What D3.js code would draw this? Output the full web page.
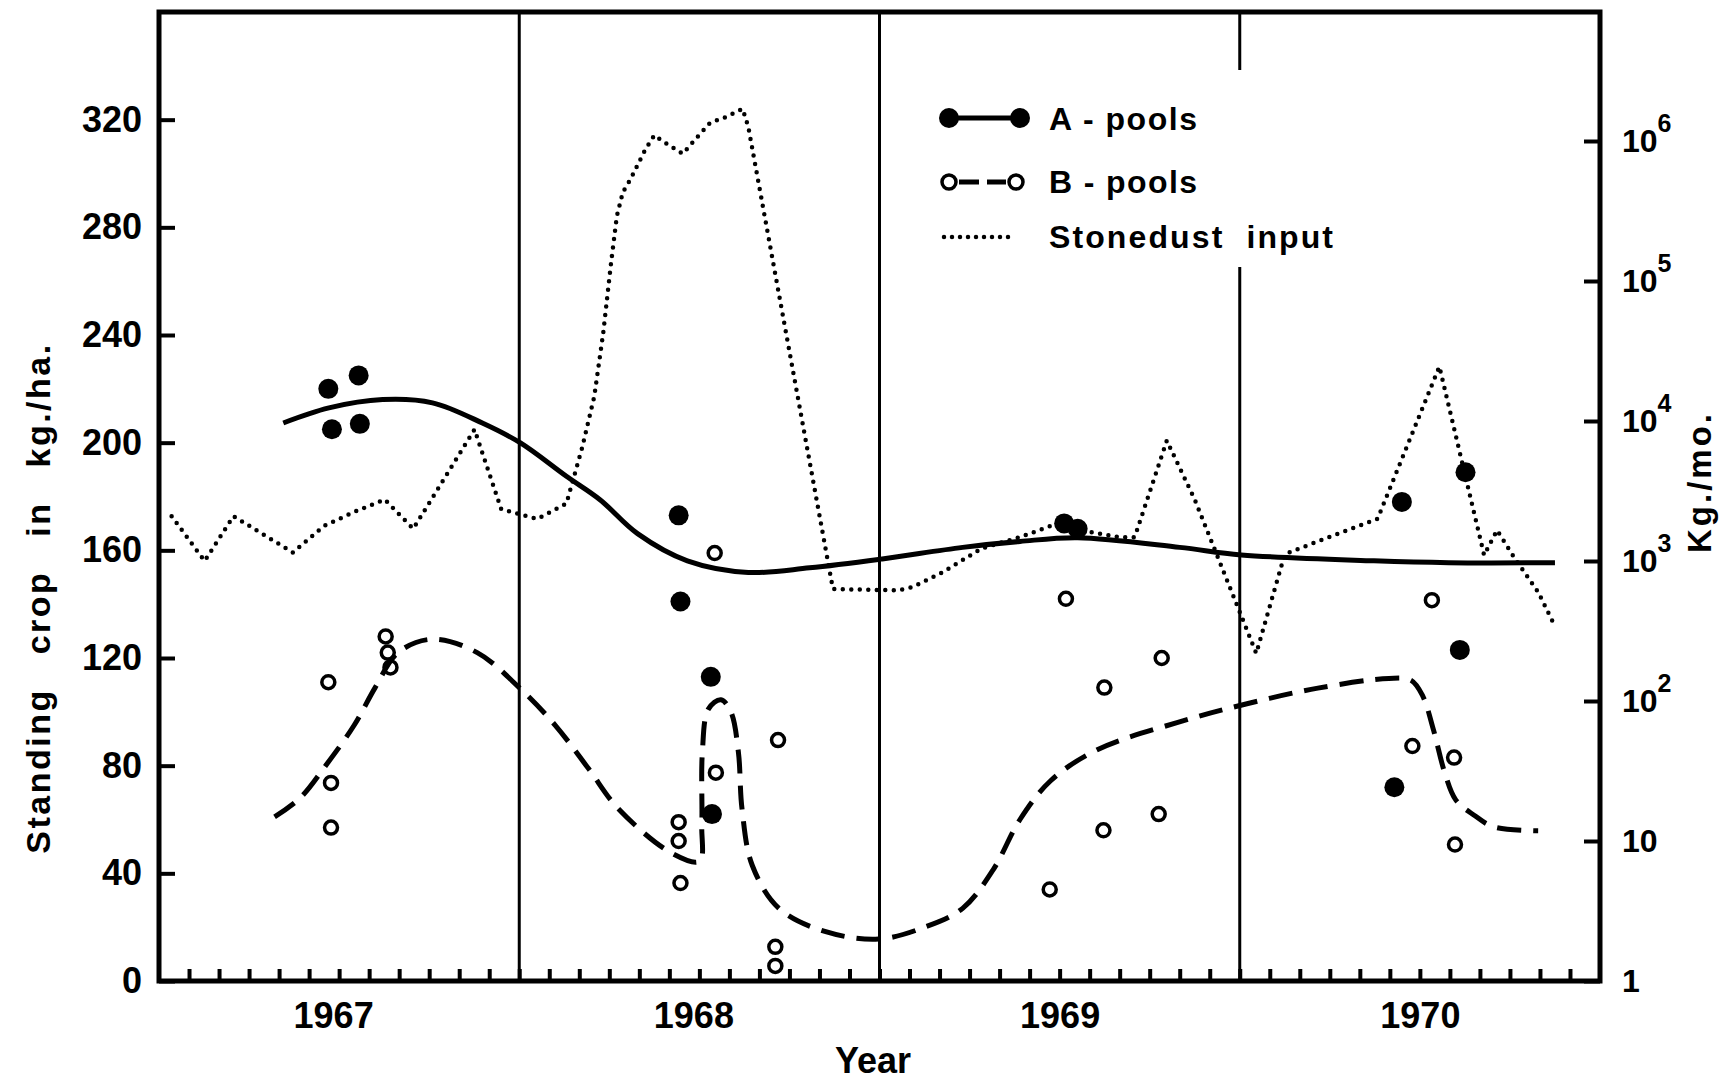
<!DOCTYPE html>
<meta charset="utf-8">
<style>
body { margin: 0; background: #fff; }
svg { display: block; font-family: "Liberation Sans", Arial, sans-serif; font-weight: bold; }
.frame { fill: none; stroke: #000; stroke-width: 5px; }
.divider { stroke: #000; stroke-width: 3px; }
.a-line { fill: none; stroke: #000; stroke-width: 5px; }
.b-line { fill: none; stroke: #000; stroke-width: 5px; stroke-dasharray: 24 12; }
.dust-line { fill: none; stroke: #000; stroke-width: 4.5px; stroke-linecap: round; stroke-dasharray: 0 8.5; }
.a-dot { fill: #000; }
.b-dot { fill: none; stroke: #000; stroke-width: 3.5px; }
.axis .domain { display: none; }
.axis line { stroke: #000; stroke-width: 4px; }
.axis text { fill: #000; font-size: 36px; font-weight: bold; }
.title { fill: #000; font-size: 34px; font-weight: bold; }
.legend text { fill: #000; font-size: 32px; font-weight: bold; }
</style>
<svg id="chart" width="1735" height="1085"></svg>
<script src="https://cdn.jsdelivr.net/npm/d3@7"></script>
<script>
// months counted from Jan 1967, values in kg/ha (left) or kg/mo (right, log)
var yearLabels = ["1967", "1968", "1969", "1970"];
var yearTickMonths = [5.8, 17.8, 30, 42];
var leftTicks = [0, 40, 80, 120, 160, 200, 240, 280, 320];
var rightTicks = [1, 10, 100, 1e3, 1e4, 1e5, 1e6];

var aPoolSamples = [
  [5.64, 220], [5.76, 205], [6.65, 225], [6.69, 207],
  [17.31, 173], [17.37, 141], [18.38, 113], [18.42, 62],
  [30.15, 170], [30.6, 168],
  [41.15, 72], [41.4, 178], [43.33, 123], [43.52, 189]
];
var bPoolSamples = [
  [5.64, 111], [5.73, 73.6], [5.73, 57], [7.55, 128], [7.62, 122], [7.71, 116.5],
  [17.31, 59], [17.31, 52], [17.37, 36.4], [18.51, 159], [18.55, 77.4],
  [20.62, 89.5], [20.53, 12.7], [20.53, 5.6],
  [29.67, 34], [30.21, 142], [31.49, 109], [31.46, 56], [33.4, 120], [33.3, 62],
  [41.75, 87.3], [42.4, 141.5], [43.14, 83], [43.17, 50.7]
];
var aPoolCurve = [
  [4.14, 207.3], [5.66, 212.9], [7.45, 216], [9.11, 214.8], [10.77, 207.3],
  [12.04, 199.9], [13.57, 187.5], [14.69, 178.8], [15.94, 166.2], [17.6, 156.1],
  [19.63, 151.8], [21.67, 153.5], [24.09, 156.8], [26.77, 161.1], [28.68, 163.3],
  [30.6, 164.7], [34.0, 161.1], [36.05, 158.3], [40.47, 156.1], [42.96, 155.4], [46.5, 155.4]
];
var bPoolCurve = [
  [3.85, 61], [4.7, 68], [5.55, 80], [6.5, 95], [7.2, 109], [7.96, 122], [9.1, 127],
  [10.6, 122], [12.0, 109], [13.2, 95], [14.3, 79], [15.3, 64], [17.08, 47.5], [18.0, 44.5],
  [18.08, 58], [18.1, 85], [18.3, 101], [18.72, 104.5], [19.05, 100], [19.3, 85], [19.42, 64],
  [19.76, 43], [20.65, 27], [22.18, 18.4], [23.97, 15.6], [25.5, 20], [26.77, 27],
  [27.79, 41.4], [28.68, 60], [29.7, 74.4], [31.23, 85.8], [33.91, 96], [36.24, 103],
  [38.6, 108.8], [40.97, 112.4], [41.71, 111.7], [42.09, 106], [42.46, 93], [42.83, 77.3],
  [43.2, 67.2], [43.82, 61.5], [44.45, 57.3], [45.94, 55.8]
];
var stonedust = [
  [0.42, 2090], [1.52, 1000], [2.48, 2090], [4.46, 1150], [5.5, 1780], [6.5, 2240],
  [7.52, 2750], [8.47, 1700], [10.51, 8700], [11.4, 2340], [12.6, 2000], [13.57, 2570],
  [14.1, 6500], [14.5, 15000], [14.8, 43000], [15.05, 130000], [15.25, 290000],
  [15.45, 430000], [15.7, 530000], [16.2, 870000], [16.5, 1100000], [16.77, 1000000],
  [17.45, 810000], [17.85, 1020000], [18.36, 1350000], [18.87, 1480000], [19.44, 1700000],
  [19.63, 1260000], [22.45, 630], [24.6, 617], [25.1, 650], [26.1, 830], [27.4, 1230],
  [28.68, 1480], [29.7, 1780], [30.98, 1620], [32.0, 1480], [32.5, 1480], [33.57, 7240],
  [34.5, 2750], [36.55, 219], [37.5, 1120], [38.6, 1380], [39.97, 1780], [40.59, 2000],
  [42.65, 24500], [44.14, 1100], [44.57, 1660], [45.13, 1070], [45.94, 600], [46.44, 363]
];

var svg = d3.select("#chart");
var x = d3.scaleLinear().domain([0, 48]).range([159, 1600]);
var y = d3.scaleLinear().domain([0, 360]).range([981, 12]);
var yDust = d3.scaleLog().domain([1, 1e6]).range([981, 141]);

// year dividers
svg.append("g").selectAll("line")
  .data([12, 24, 36])
  .enter().append("line")
    .attr("class", "divider")
    .attr("x1", function(d) { return x(d); })
    .attr("x2", function(d) { return x(d); })
    .attr("y1", y(360))
    .attr("y2", y(0));

var curve = d3.line()
  .curve(d3.curveCatmullRom.alpha(0.5))
  .x(function(d) { return x(d[0]); })
  .y(function(d) { return y(d[1]); });
var dustLine = d3.line()
  .x(function(d) { return x(d[0]); })
  .y(function(d) { return yDust(d[1]); });

svg.append("path").datum(stonedust).attr("class", "dust-line").attr("d", dustLine);
svg.append("path").datum(aPoolCurve).attr("class", "a-line").attr("d", curve);
svg.append("path").datum(bPoolCurve).attr("class", "b-line").attr("d", curve);

svg.append("g").selectAll("circle")
  .data(aPoolSamples)
  .enter().append("circle")
    .attr("class", "a-dot")
    .attr("cx", function(d) { return x(d[0]); })
    .attr("cy", function(d) { return y(d[1]); })
    .attr("r", 10);
svg.append("g").selectAll("circle")
  .data(bPoolSamples)
  .enter().append("circle")
    .attr("class", "b-dot")
    .attr("cx", function(d) { return x(d[0]); })
    .attr("cy", function(d) { return y(d[1]); })
    .attr("r", 6.5);

// legend
var lg = svg.append("g").attr("class", "legend");
lg.append("rect").attr("x", 930).attr("y", 70).attr("width", 410).attr("height", 197).attr("fill", "#fff");
lg.append("line").attr("class", "a-line").attr("x1", 949).attr("x2", 1020).attr("y1", 118).attr("y2", 118);
lg.selectAll("circle.a").data([949, 1020]).enter().append("circle")
  .attr("class", "a-dot").attr("cx", function(d) { return d; }).attr("cy", 118).attr("r", 10);
lg.append("line").attr("class", "b-line").style("stroke-dasharray", "20 8")
  .attr("x1", 959).attr("x2", 1006).attr("y1", 182).attr("y2", 182);
lg.selectAll("circle.b").data([949, 1016]).enter().append("circle")
  .attr("class", "b-dot").attr("cx", function(d) { return d; }).attr("cy", 182).attr("r", 7);
lg.append("line").attr("class", "dust-line").style("stroke-dasharray", "0 8")
  .attr("x1", 944).attr("x2", 1012).attr("y1", 237).attr("y2", 237);
var legendText = [["A - pools", 130, 148], ["B - pools", 193, 148], ["Stonedust  input", 248, 284]];
lg.selectAll("text").data(legendText).enter().append("text")
  .attr("x", 1049)
  .attr("y", function(d) { return d[1]; })
  .attr("textLength", function(d) { return d[2]; })
  .attr("lengthAdjust", "spacing")
  .style("white-space", "pre")
  .text(function(d) { return d[0]; });

// axes
svg.append("g")
  .attr("class", "axis")
  .attr("transform", "translate(" + x(0) + ",0)")
  .call(d3.axisLeft(y).tickValues(leftTicks).tickSize(-16).tickSizeOuter(0).tickPadding(17));

var right = svg.append("g")
  .attr("class", "axis")
  .attr("transform", "translate(" + x(48) + ",0)")
  .call(d3.axisRight(yDust).tickValues(rightTicks).tickSize(-16).tickSizeOuter(0).tickPadding(22));
right.selectAll(".tick text").each(function(d) {
  var t = d3.select(this).text(null).style("font-size", "32px");
  var e = Math.round(Math.log10(d));
  if (e === 0) { t.text("1"); return; }
  t.append("tspan").text("10");
  if (e > 1) {
    t.append("tspan").attr("dy", "-0.8em").style("font-size", "25px").text(e);
  }
});

svg.append("g")
  .attr("class", "axis")
  .attr("transform", "translate(0," + y(0) + ")")
  .call(d3.axisBottom(x).tickValues(d3.range(1, 48)).tickSize(-12).tickSizeOuter(0).tickFormat(""));
svg.append("g")
  .attr("class", "axis")
  .attr("transform", "translate(0," + y(0) + ")")
  .call(d3.axisBottom(x).tickValues(yearTickMonths).tickSize(0).tickPadding(21)
    .tickFormat(function(d, i) { return yearLabels[i]; }));

// frame
svg.append("rect")
  .attr("class", "frame")
  .attr("x", x(0))
  .attr("y", y(360))
  .attr("width", x(48) - x(0))
  .attr("height", y(0) - y(360));

// titles
svg.append("text").attr("class", "title")
  .attr("x", 873).attr("y", 1073)
  .attr("text-anchor", "middle")
  .style("font-size", "36px")
  .text("Year");
svg.append("text").attr("class", "title")
  .attr("transform", "translate(50,598) rotate(-90)")
  .attr("text-anchor", "middle")
  .style("letter-spacing", "2.5px")
  .style("word-spacing", "22px")
  .text("Standing crop in kg./ha.");
svg.append("text").attr("class", "title")
  .attr("transform", "translate(1711,482) rotate(-90)")
  .attr("text-anchor", "middle")
  .style("font-size", "33px")
  .style("letter-spacing", "3px")
  .text("Kg./mo.");
</script>
